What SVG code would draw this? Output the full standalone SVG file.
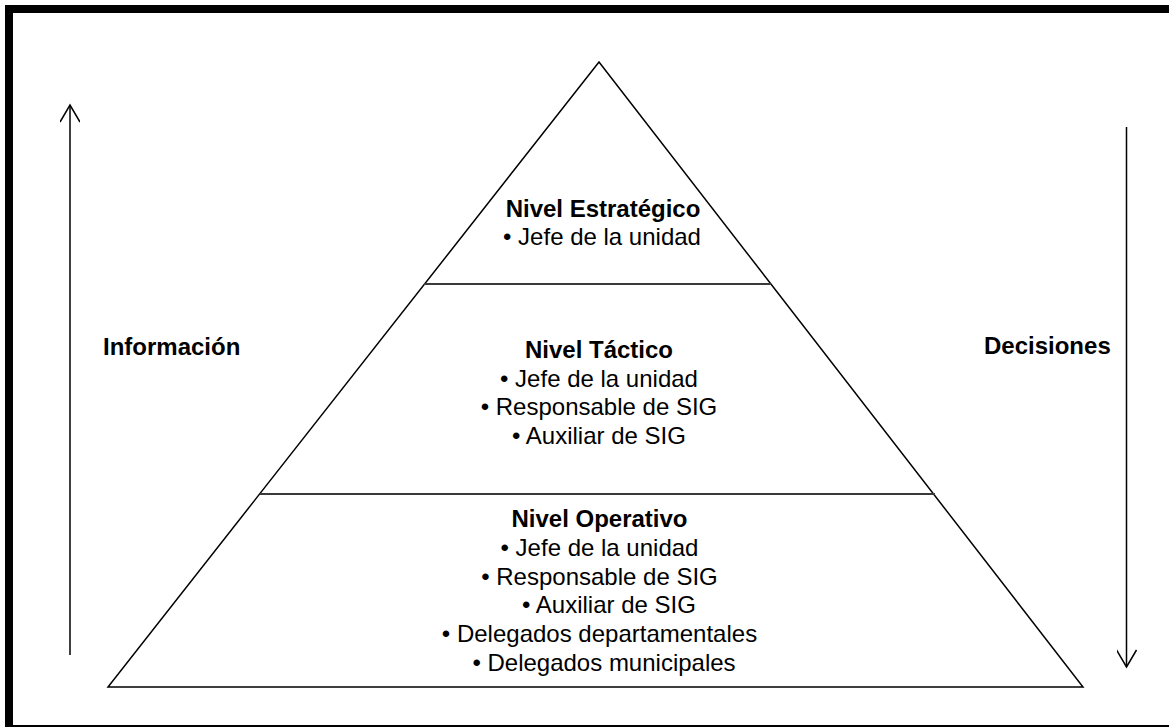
<svg xmlns="http://www.w3.org/2000/svg" width="1169" height="727" viewBox="0 0 1169 727">
  <style>
    .frame { fill: none; stroke: #000; stroke-width: 8; }
    .edge { fill: none; stroke: #000; stroke-width: 1.5; stroke-linejoin: miter; }
    .divider { stroke: #3a3a3a; stroke-width: 2; }
    .flow { fill: none; stroke: #000; stroke-width: 1.5; }
    text { font-family: "Liberation Sans", Arial, sans-serif; font-size: 24px; fill: #000; }
    .title { font-weight: bold; }
    .mid { text-anchor: middle; }
  </style>
  <defs>
    <!-- open V arrowhead, drawn pointing along +x -->
    <marker id="open-head" viewBox="0 0 20 20" refX="18" refY="10" markerWidth="20" markerHeight="20" markerUnits="userSpaceOnUse" orient="auto">
      <path d="M1,0 L18,10 L1,20" fill="none" stroke="#000" stroke-width="1.5"/>
    </marker>
  </defs>

  <rect width="1169" height="727" fill="#fff"/>
  <!-- outer border -->
  <rect class="frame" x="9" y="9" width="1190" height="720"/>

  <!-- pyramid outline and level dividers -->
  <g id="pyramid">
    <polygon class="edge" points="599,62 1083,687 108,687"/>
    <line class="divider" x1="424" y1="284" x2="771" y2="284"/>
    <line class="divider" x1="260" y1="494" x2="935" y2="494"/>
  </g>

  <g id="nivel-estrategico">
    <text class="title mid" x="603" y="216.5">Nivel Estratégico</text>
    <text class="mid" x="602" y="245">• Jefe de la unidad</text>
  </g>

  <g id="nivel-tactico">
    <text class="title mid" x="599" y="358">Nivel Táctico</text>
    <text class="mid" x="599" y="386.5">• Jefe de la unidad</text>
    <text class="mid" x="599" y="415">• Responsable de SIG</text>
    <text class="mid" x="599" y="443.5">• Auxiliar de SIG</text>
  </g>

  <g id="nivel-operativo">
    <text class="title mid" x="599.5" y="527">Nivel Operativo</text>
    <text class="mid" x="599.5" y="555.5">• Jefe de la unidad</text>
    <text class="mid" x="599.5" y="584.5">• Responsable de SIG</text>
    <text class="mid" x="609" y="613">• Auxiliar de SIG</text>
    <text class="mid" x="599.5" y="642">• Delegados departamentales</text>
    <text class="mid" x="604" y="670.5">• Delegados municipales</text>
  </g>

  <g id="informacion">
    <text class="title" x="103" y="355">Información</text>
  </g>
  <g id="decisiones">
    <text class="title" x="984" y="354">Decisiones</text>
  </g>

  <!-- vertical flow arrows -->
  <g id="connectors">
    <line class="flow" x1="70" y1="655" x2="70" y2="105" marker-end="url(#open-head)"/>
    <line class="flow" x1="1126.5" y1="127" x2="1126.5" y2="667" marker-end="url(#open-head)"/>
  </g>
</svg>
